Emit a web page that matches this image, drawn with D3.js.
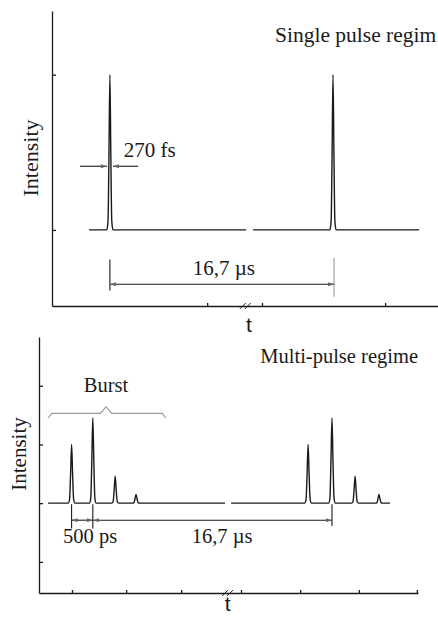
<!DOCTYPE html>
<html>
<head>
<meta charset="utf-8">
<script src="https://cdn.jsdelivr.net/npm/d3@7"></script>
<style>
  body { margin: 0; background: #fff; }
  svg text { font-family: "Liberation Serif", "Times New Roman", serif; fill: #1a1a1a; }
</style>
</head>
<body>
<div id="chart"></div>
<script>
// --- dane: panel górny (single pulse) ---
const topYTicks = [0, 1];
const topXTicks = [40.2, 54.4, 86.3];
const topPulses = [{ t: 15.0, h: 1 }, { t: 72.8, h: 1 }];
const topSegments = [[9.6, 50.3], [52.1, 95.1]];
const topBreak = 50.2;

// --- dane: panel dolny (multi-pulse) ---
const botYTicks = [-1, 0, 1, 2];
const botXTicks = [8.7, 23.0, 37.5, 53.3, 68.9, 84.4, 99.7];
const botPulses = [
  { t: 8.6, h: 1.0 }, { t: 14.2, h: 1.45 }, { t: 20.1, h: 0.46 }, { t: 25.6, h: 0.15 },
  { t: 71.0, h: 1.0 }, { t: 77.3, h: 1.45 }, { t: 83.4, h: 0.46 }, { t: 89.7, h: 0.15 }
];
const botSegments = [[2.4, 49.1], [50.7, 92.6]];
const botBreak = 49.9;

// kształt impulsu (względne przesunięcie, względna wysokość)
const pulseShape = [[-1, 0], [-0.6, 0.06], [-0.32, 0.45], [0, 1], [0.32, 0.45], [0.6, 0.06], [1, 0]];

const W = 438, H = 617;
const svg = d3.select("#chart").append("svg").attr("width", W).attr("height", H);

const defs = svg.append("defs");
defs.append("marker")
  .attr("id", "arr")
  .attr("viewBox", "0 0 6 4")
  .attr("refX", 6).attr("refY", 2)
  .attr("markerWidth", 6).attr("markerHeight", 4)
  .attr("markerUnits", "userSpaceOnUse")
  .attr("orient", "auto-start-reverse")
  .append("path").attr("d", "M0,0 L6,2 L0,4 Z").attr("fill", "#666");

const drawPanel = (cfg) => {
  const x = d3.scaleLinear().domain([0, 100]).range(cfg.xRange);
  const y = d3.scaleLinear().domain(cfg.yDomain).range(cfg.yRange);
  const g = svg.append("g");

  // oś Y (ticki do środka)
  g.append("g")
    .attr("transform", `translate(${cfg.xRange[0]},0)`)
    .call(d3.axisRight(y).tickValues(cfg.yTicks).tickSize(4).tickSizeOuter(0).tickFormat(""))
    .call(a => a.selectAll("path, line").attr("stroke", "#1a1a1a").attr("stroke-width", 1.3));

  // oś X (ticki w górę)
  g.append("g")
    .attr("transform", `translate(0,${cfg.yRange[0]})`)
    .call(d3.axisTop(x).tickValues(cfg.xTicks).tickSize(3).tickSizeOuter(0).tickFormat(""))
    .call(a => a.selectAll("path, line").attr("stroke", "#1a1a1a").attr("stroke-width", 1.3));

  // przerwa na osi X
  [-3, 2].forEach(off => {
    g.append("line")
      .attr("x1", x(cfg.brk) + off - 3).attr("y1", cfg.yRange[0] + 3)
      .attr("x2", x(cfg.brk) + off + 3).attr("y2", cfg.yRange[0] - 3)
      .attr("stroke", "#1a1a1a").attr("stroke-width", 1);
  });

  // przebieg z impulsami
  const line = d3.line().x(d => x(d[0])).y(d => y(d[1])).curve(d3.curveMonotoneX);
  cfg.segments.forEach(([a, b]) => {
    const pts = [[a, 0]];
    cfg.pulses.filter(p => p.t > a && p.t < b).forEach(p => {
      pulseShape.forEach(([dx, dh]) => pts.push([p.t + dx * cfg.pw, dh * p.h]));
    });
    pts.push([b, 0]);
    g.append("path")
      .attr("d", line(pts))
      .attr("fill", "none")
      .attr("stroke", "#1a1a1a")
      .attr("stroke-width", 1.4);
  });

  // tytuł osi Y
  g.append("text")
    .attr("transform", `translate(${cfg.yLabel[0]},${cfg.yLabel[1]}) rotate(-90)`)
    .attr("text-anchor", "middle")
    .style("font-size", cfg.fs + "px")
    .text("Intensity");

  // etykieta "t"
  g.append("text")
    .attr("x", x(cfg.tLabel[0])).attr("y", cfg.tLabel[1])
    .attr("text-anchor", "middle")
    .style("font-family", "'Liberation Sans', Arial, sans-serif")
    .style("font-size", "21px")
    .text("t");

  return { g, x, y };
};

const arrow = (g, x1, y1, x2, y2, both) => {
  const l = g.append("line")
    .attr("x1", x1).attr("y1", y1).attr("x2", x2).attr("y2", y2)
    .attr("stroke", "#1a1a1a").attr("stroke-width", 1.1)
    .attr("marker-end", "url(#arr)");
  if (both) l.attr("marker-start", "url(#arr)");
};
const vline = (g, xv, y1, y2, col) => g.append("line")
  .attr("x1", xv).attr("x2", xv).attr("y1", y1).attr("y2", y2)
  .attr("stroke", col || "#1a1a1a").attr("stroke-width", 1.1);

// ===== panel górny =====
const pTop = drawPanel({
  xRange: [52, 438], yDomain: [-0.49, 1.41], yRange: [306, 11],
  yTicks: topYTicks, xTicks: topXTicks, brk: topBreak,
  segments: topSegments, pulses: topPulses, pw: 0.8,
  yLabel: [38, 158], tLabel: [51, 332], fs: 22
});

pTop.g.append("text").attr("x", 275).attr("y", 42).style("font-size", "21.5px").text("Single pulse regim");

// 270 fs
arrow(pTop.g, pTop.x(7.25), pTop.y(0.41), pTop.x(14.25), pTop.y(0.41));
arrow(pTop.g, pTop.x(22.3), pTop.y(0.41), pTop.x(15.8), pTop.y(0.41));
pTop.g.append("text").attr("x", pTop.x(18.6)).attr("y", pTop.y(0.47)).style("font-size", "21px").text("270 fs");

// 16,7 µs (górny)
vline(pTop.g, pTop.x(topPulses[0].t), pTop.y(-0.19), pTop.y(-0.39));
vline(pTop.g, pTop.x(topPulses[1].t) + 1, pTop.y(-0.18), pTop.y(-0.43), "#999");
arrow(pTop.g, pTop.x(topPulses[0].t), pTop.y(-0.35), pTop.x(topPulses[1].t) + 1, pTop.y(-0.35), true);
pTop.g.append("text").attr("x", pTop.x(44.5)).attr("y", pTop.y(-0.29))
  .attr("text-anchor", "middle").style("font-size", "21px").text("16,7 µs");

// ===== panel dolny =====
const pBot = drawPanel({
  xRange: [39, 418], yDomain: [-1.53, 2.83], yRange: [593, 337],
  yTicks: botYTicks, xTicks: botXTicks, brk: botBreak,
  segments: botSegments, pulses: botPulses, pw: 0.9,
  yLabel: [26, 454], tLabel: [49.8, 611], fs: 21
});

pBot.g.append("text").attr("x", 418).attr("y", 363).attr("text-anchor", "end")
  .style("font-size", "20.5px").text("Multi-pulse regime");

// klamra "Burst"
const brace = [[2.4, 1.45], [3.4, 1.53], [16.2, 1.53], [17.7, 1.64], [19.2, 1.53], [32.5, 1.53], [33.5, 1.45]];
pBot.g.append("path")
  .attr("d", d3.line().x(d => pBot.x(d[0])).y(d => pBot.y(d[1]))(brace))
  .attr("fill", "none").attr("stroke", "#999").attr("stroke-width", 1.1);
pBot.g.append("text").attr("x", pBot.x(17.7)).attr("y", pBot.y(1.89))
  .attr("text-anchor", "middle").style("font-size", "20.5px").text("Burst");

// 500 ps i 16,7 µs (dolny)
const p1 = botPulses[0].t, p2 = botPulses[1].t, p6 = botPulses[5].t;
vline(pBot.g, pBot.x(p1), pBot.y(-0.02), pBot.y(-0.43));
vline(pBot.g, pBot.x(p2), pBot.y(-0.02), pBot.y(-0.43));
vline(pBot.g, pBot.x(p6), pBot.y(-0.02), pBot.y(-0.39));
arrow(pBot.g, pBot.x(p1), pBot.y(-0.29), pBot.x(p2), pBot.y(-0.29), true);
arrow(pBot.g, pBot.x(p2), pBot.y(-0.29), pBot.x(p6), pBot.y(-0.29), true);
pBot.g.append("text").attr("x", pBot.x(13.5)).attr("y", pBot.y(-0.68))
  .attr("text-anchor", "middle").style("font-size", "20.5px").text("500 ps");
pBot.g.append("text").attr("x", pBot.x(48.3)).attr("y", pBot.y(-0.68))
  .attr("text-anchor", "middle").style("font-size", "20.5px").text("16,7 µs");
</script>
</body>
</html>
